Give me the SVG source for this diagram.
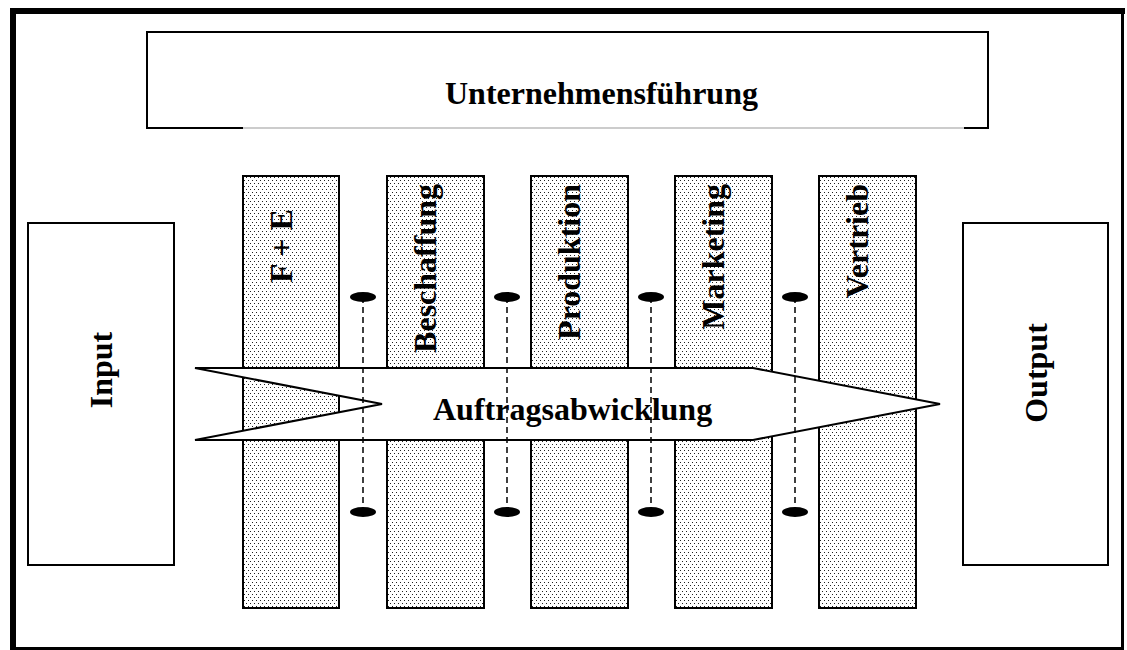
<svg xmlns="http://www.w3.org/2000/svg" width="1127" height="650" viewBox="0 0 1127 650">
<defs>
<pattern id="dots" x="0" y="0" width="4" height="6" patternUnits="userSpaceOnUse">
<rect width="4" height="6" fill="#ffffff"/>
<rect x="0" y="0" width="1" height="1" fill="#222222"/>
<rect x="2" y="3" width="1" height="1" fill="#222222"/>
</pattern>
</defs>
<style>
.lbl{font-family:"Liberation Serif","Times New Roman",serif;font-weight:bold;font-size:32px;fill:#000}
.strip{fill:url(#dots);stroke:#000;stroke-width:2}
.box{fill:#fff;stroke:#000;stroke-width:2}
.dash{stroke:#000;stroke-width:1.5;stroke-dasharray:6,4;fill:none}
.dot{fill:#000}
</style>
<rect width="1127" height="650" fill="#fff"/>
<g id="frame">
<rect x="10" y="8" width="1115" height="6" fill="#000"/>
<rect x="10" y="8" width="6" height="642" fill="#000"/>
<rect x="1121" y="8" width="3" height="642" fill="#000"/>
<rect x="10" y="647" width="1114" height="3" fill="#000"/>
</g>
<g id="unternehmensfuehrung">
<path d="M243,128 H964" stroke="#bbbbbb" stroke-width="1.5" fill="none"/>
<path d="M243,128 H147 V32 H988 V128 H964" stroke="#000" stroke-width="2" fill="none"/>
<text class="lbl" x="445" y="104">Unternehmensführung</text>
</g>
<g id="fe">
<rect class="strip" x="243" y="176" width="96" height="432"/>
<text class="lbl" transform="translate(292,283) rotate(-90)">F + E</text>
</g>
<g id="beschaffung">
<rect class="strip" x="387" y="176" width="97" height="432"/>
<text class="lbl" text-anchor="end" transform="translate(436,184) rotate(-90)">Beschaffung</text>
</g>
<g id="produktion">
<rect class="strip" x="531" y="176" width="97" height="432"/>
<text class="lbl" text-anchor="end" transform="translate(580,184) rotate(-90)">Produktion</text>
</g>
<g id="marketing">
<rect class="strip" x="675" y="176" width="97" height="432"/>
<text class="lbl" text-anchor="end" transform="translate(724,184) rotate(-90)">Marketing</text>
</g>
<g id="vertrieb">
<rect class="strip" x="819" y="176" width="97" height="432"/>
<text class="lbl" text-anchor="end" transform="translate(868,184) rotate(-90)">Vertrieb</text>
</g>
<g id="input">
<rect class="box" x="28" y="223" width="146" height="342"/>
<text class="lbl" text-anchor="middle" transform="translate(112,370) rotate(-90)">Input</text>
</g>
<g id="output">
<rect class="box" x="963" y="223" width="145" height="342"/>
<text class="lbl" text-anchor="middle" transform="translate(1047,373) rotate(-90)">Output</text>
</g>
<g id="auftragsabwicklung">
<polygon points="195,368 753,368 940,404 753,440 195,440 382,404" fill="#fff" stroke="#000" stroke-width="2" stroke-linejoin="miter"/>
<text class="lbl" x="433" y="420">Auftragsabwicklung</text>
</g>
<g id="connectors">
<line class="dash" x1="363" y1="297" x2="363" y2="512"/>
<line class="dash" x1="507" y1="297" x2="507" y2="512"/>
<line class="dash" x1="651" y1="297" x2="651" y2="512"/>
<line class="dash" x1="795" y1="297" x2="795" y2="512"/>
<ellipse class="dot" cx="363" cy="297" rx="13" ry="5"/>
<ellipse class="dot" cx="507" cy="297" rx="13" ry="5"/>
<ellipse class="dot" cx="651" cy="297" rx="13" ry="5"/>
<ellipse class="dot" cx="795" cy="297" rx="13" ry="5"/>
<ellipse class="dot" cx="363" cy="512" rx="13" ry="5"/>
<ellipse class="dot" cx="507" cy="512" rx="13" ry="5"/>
<ellipse class="dot" cx="651" cy="512" rx="13" ry="5"/>
<ellipse class="dot" cx="795" cy="512" rx="13" ry="5"/>
</g>
</svg>
